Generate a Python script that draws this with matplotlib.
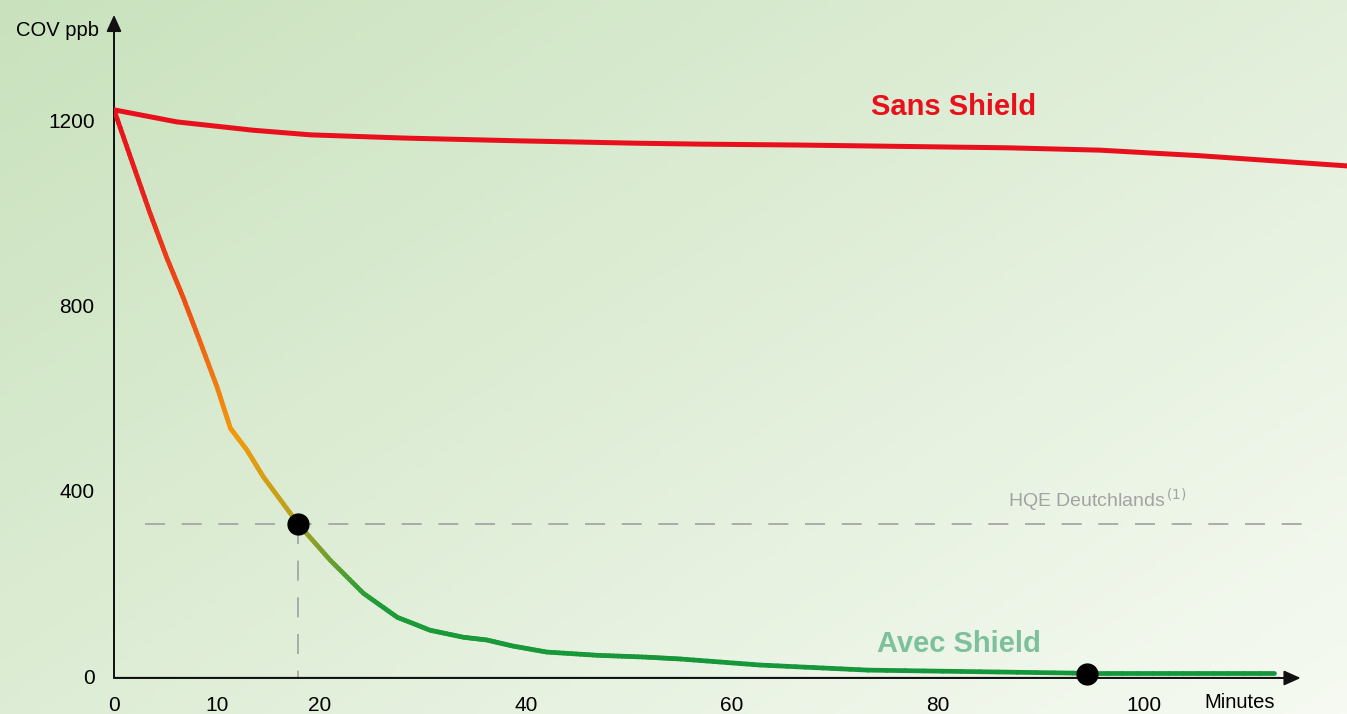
import numpy as np
import matplotlib
matplotlib.use('Agg')
import matplotlib.pyplot as plt
from matplotlib.collections import LineCollection
from matplotlib.colors import LinearSegmentedColormap

# data (minutes, ppb)
sans_t = [0, 6.1, 13.5, 19.1, 28.3, 39.5, 50.7, 56.9, 66.6, 86.9, 95.7, 105.4, 119.7]
sans_v = [1222, 1196, 1178, 1168, 1161, 1155, 1150, 1148, 1146, 1140, 1135, 1123, 1101]

avec_t = [0, 1.8, 3.5, 5.1, 6.7, 8.3, 10.0, 11.3, 12.9, 14.5, 17.9, 21.0, 24.2, 27.5,
          30.7, 33.9, 36.2, 38.7, 42.0, 46.9, 51.7, 55.0, 62.7, 73.2, 94.9, 112.6]
avec_v = [1222, 1107, 999, 904, 818, 725, 624, 535, 488, 430, 328, 250, 179, 127,
          99, 84, 78, 65, 52, 45, 41, 37, 24, 13, 6, 6]

hqe_level = 328
marks_t = [17.9, 94.5]
marks_v = [328, 5]

x_ticks = [0, 10, 20, 40, 60, 80, 100]
y_ticks = [0, 400, 800, 1200]

plt.rcParams['font.family'] = ['Liberation Sans', 'DejaVu Sans']

W, H = 1347, 714
fig = plt.figure(figsize=(W / 100, H / 100), dpi=100)

# background gradient
bg = fig.add_axes([0, 0, 1, 1])
yy, xx = np.mgrid[0:1:200j, 0:1:200j]
t = np.clip(0.55 * xx + 0.45 * yy, 0, 1)
c0 = np.array([201, 226, 189]) / 255
c1 = np.array([246, 250, 242]) / 255
img = c0[None, None, :] * (1 - t[..., None]) + c1[None, None, :] * t[..., None]
bg.imshow(img, extent=[0, 1, 0, 1], aspect='auto', origin='upper')
bg.axis('off')

ax = fig.add_axes([114 / W, 36 / H, (W - 114) / W, 678 / H])
ax.patch.set_alpha(0)
ax.set_xlim(0, 119.7)
ax.set_ylim(-4, 1459)
for s in ax.spines.values():
    s.set_visible(False)

ax.set_xticks(x_ticks)
ax.set_yticks(y_ticks)
ax.tick_params(length=0, labelsize=15, pad=13)
ax.tick_params(axis='y', pad=14)

# axis arrows
arrow = dict(arrowstyle='-|>,head_length=1.0,head_width=0.45', color='#111111', lw=1.4, shrinkA=0, shrinkB=0)
ax.annotate('', xy=(0, 1427), xytext=(0, -4), annotation_clip=False, arrowprops=arrow)
ax.annotate('', xy=(115.2, -4), xytext=(0, -4), annotation_clip=False, arrowprops=arrow)
ax.plot([0, 0], [-4, 1400], color='#555555', lw=1.4, zorder=2)
ax.plot([0, 113], [-4, -4], color='#5a5a5a', lw=2.4, zorder=2)

# HQE reference
dash = (0, (12, 10))
ax.plot([3.0, 116.6], [hqe_level, hqe_level], ls=dash, color='#a0a0a0', lw=1.2, zorder=1)
ax.plot([marks_t[0], marks_t[0]], [hqe_level, -4], ls=dash, color='#a0a0a0', lw=1.2, zorder=1)
ax.text(95.5, 350, 'HQE Deutchlands$^{\\,(1)}$', color='#a3a3a3', fontsize=14,
        ha='center', va='bottom')

# sans shield
ax.plot(sans_t, sans_v, color='#e8101c', lw=3.6, solid_capstyle='round', zorder=3)

# avec shield, colour follows the level
xs, ys = [], []
for i in range(len(avec_t) - 1):
    f = np.linspace(0, 1, 12, endpoint=False)
    xs.extend(avec_t[i] + f * (avec_t[i + 1] - avec_t[i]))
    ys.extend(avec_v[i] + f * (avec_v[i + 1] - avec_v[i]))
xs.append(avec_t[-1])
ys.append(avec_v[-1])
pts = np.column_stack([xs, ys]).reshape(-1, 1, 2)
segs = np.concatenate([pts[:-1], pts[1:]], axis=1)
cmap = LinearSegmentedColormap.from_list('avec', [
    (0.0, '#14963a'), (0.13, '#1f9c38'), (0.20, '#6a9e30'), (0.28, '#b9a21c'),
    (0.42, '#f29a0c'), (0.62, '#ee5a14'), (0.85, '#e8201a'), (1.0, '#e8101c')])
lc = LineCollection(segs, cmap=cmap, norm=plt.Normalize(0, 1222), lw=3.4, zorder=3, capstyle='round')
lc.set_array((np.array(ys[:-1]) + np.array(ys[1:])) / 2)
ax.add_collection(lc)

ax.plot(marks_t, marks_v, 'o', color='black', ms=15, zorder=5, clip_on=False)

ax.text(81.5, 1228, 'Sans Shield', color='#e8101c', fontsize=21, fontweight='bold',
        ha='center', va='center')
ax.text(82.0, 70, 'Avec Shield', color='#7cc09c', fontsize=21, fontweight='bold',
        ha='center', va='center')

fig.text(58 / W, 1 - 30 / H, 'COV ppb', fontsize=14.5, ha='center', va='center')
fig.text(1240 / W, 1 - 702 / H, 'Minutes', fontsize=14.5, ha='center', va='center')

fig.savefig('out.png', dpi=100)
